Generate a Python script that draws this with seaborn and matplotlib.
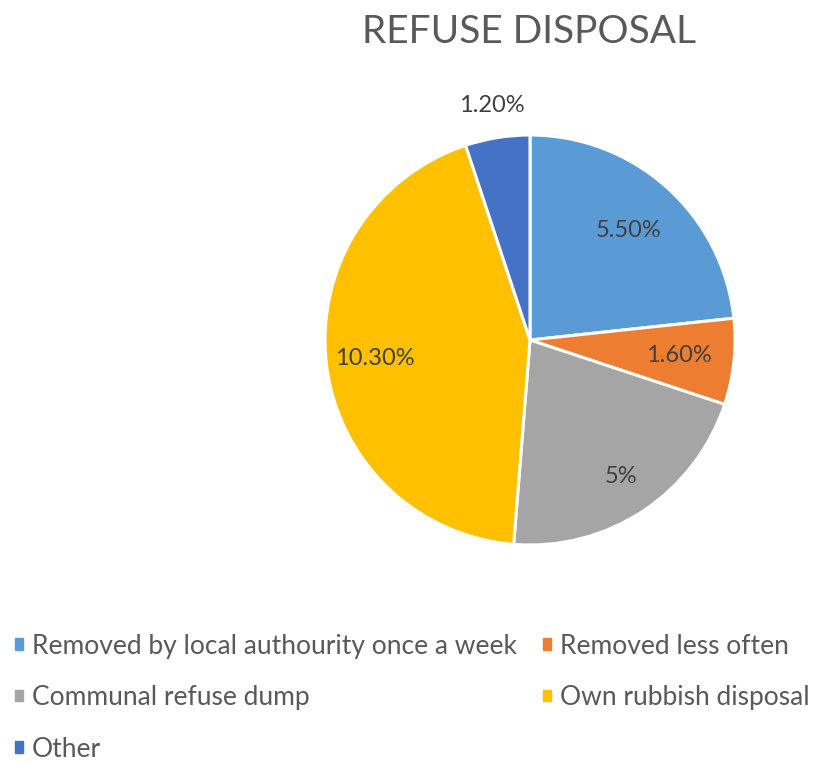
import matplotlib
matplotlib.use("Agg")
import matplotlib.pyplot as plt
import seaborn as sns
import numpy as np

# Household refuse disposal shares
categories = [
    "Removed by local authourity once a week",
    "Removed less often",
    "Communal refuse dump",
    "Own rubbish disposal",
    "Other",
]
values = [5.5, 1.6, 5.0, 10.3, 1.2]
value_labels = ["5.50%", "1.60%", "5%", "10.30%", "1.20%"]
colors = ["#5B9BD5", "#ED7D31", "#A5A5A5", "#FFC000", "#4472C4"]

sns.set_theme(style="white")
plt.rcParams["font.family"] = ["Lato", "DejaVu Sans"]

W, H = 817, 764
fig = plt.figure(figsize=(W / 100, H / 100), dpi=100)

cx, cy, r = 530, 340, 205
ax = fig.add_axes([(cx - r) / W, (H - cy - r) / H, 2 * r / W, 2 * r / H])

wedges, _ = ax.pie(
    values,
    colors=sns.color_palette(colors),
    startangle=90,
    counterclock=False,
    wedgeprops=dict(edgecolor="white", linewidth=2.2),
)
ax.set_xlim(-1, 1)
ax.set_ylim(-1, 1)
ax.set_aspect("equal")

# Data labels placed along each wedge's mid-angle
label_radius = [0.72, 0.73, 0.80, 0.76, 1.16]
for w, txt, rad in zip(wedges, value_labels, label_radius):
    ang = np.deg2rad((w.theta1 + w.theta2) / 2)
    ax.text(rad * np.cos(ang), rad * np.sin(ang), txt, ha="center", va="center",
            fontsize=17, color="#404040")

fig.text(529 / W, 1 - 32 / H, "REFUSE DISPOSAL", ha="center", va="center",
         fontsize=28, color="#595959")

# Legend laid out row by row in two columns
ncol = 2
order = [i for c in range(ncol) for i in range(c, len(categories), ncol)]
handles = [plt.Rectangle((0, 0), 1, 1, color=colors[i]) for i in order]
labels = [categories[i] for i in order]
leg = fig.legend(
    handles, labels,
    loc="upper left", bbox_to_anchor=(-9 / W, 1 - 610 / H),
    ncol=ncol, frameon=False, fontsize=19, labelcolor="#595959",
    handlelength=0.3, handleheight=0.3, handletextpad=0.35,
    columnspacing=1.0, labelspacing=1.0,
)

fig.savefig("out.png", dpi=100, facecolor="white")
